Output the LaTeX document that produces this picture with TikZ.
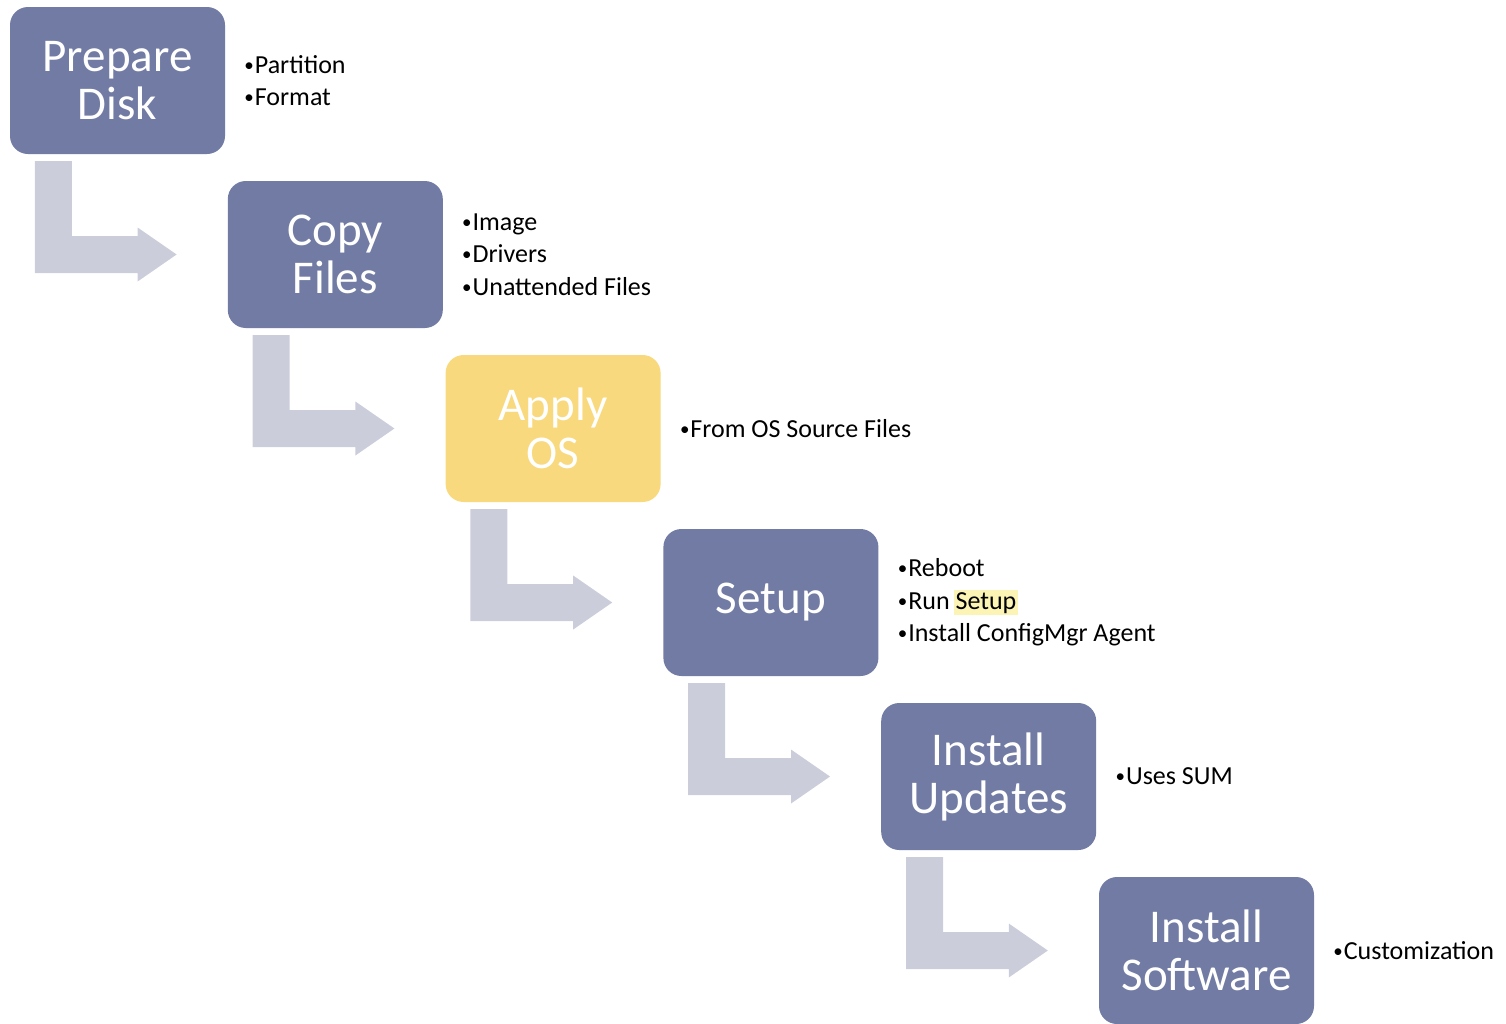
\documentclass[tikz,border=0pt]{standalone}
\usepackage{fontspec}
\setmainfont{Carlito}
\usetikzlibrary{positioning,calc}
\definecolor{boxblue}{HTML}{717BA3}
\definecolor{boxyellow}{HTML}{F9D97D}
\definecolor{arrowgray}{HTML}{CBCDDB}
\definecolor{glow}{HTML}{FCF4B4}
\tikzset{
    %Define style for step boxes
    stepbox/.style={
           rectangle,
           rounded corners=18pt,
           fill=boxblue,
           text=white,
           minimum width=215pt,
           minimum height=147pt,
           inner sep=0pt,
           align=center,
           font=\fontsize{47}{48}\selectfont},
    % Define style for bullet lists
    notes/.style={
           inner sep=0pt,
           align=left,
           font=\fontsize{26}{32.5}\selectfont},
    % Define style for bent arrows
    bent/.style={
           fill=arrowgray}
}
% small bullet
\newcommand{\bul}{\raisebox{2pt}{\fontsize{19}{19}\selectfont •}\hspace{1pt}}
% bent block arrow from one box to the next
\newcommand{\bentarrow}[2]{%
  \fill[bent] let \p1=(#1.south west), \p2=(#2.west) in
    (\x1+25pt,\y1-7pt) -- (\x1+62pt,\y1-7pt) -- (\x1+62pt,\y2+18.5pt)
    -- (\x2-90pt,\y2+18.5pt) -- (\x2-90pt,\y2+27pt) -- (\x2-51pt,\y2)
    -- (\x2-90pt,\y2-27pt) -- (\x2-90pt,\y2-18.5pt)
    -- (\x1+25pt,\y2-18.5pt) -- cycle;}

\begin{document}
\begin{tikzpicture}[x=1pt,y=1pt]
  \useasboundingbox (0,0) rectangle (1506,-1023);
  \node[stepbox] (prep) at (117.5,-80.5) {Prepare\\Disk};
  \node[stepbox,below right=26.6pt and 2.4pt of prep] (copy) {Copy\\Files};
  \node[stepbox,fill=boxyellow,below right=26.6pt and 2.4pt of copy] (apply) {Apply\\OS};
  \node[stepbox,below right=26.6pt and 2.4pt of apply] (setup) {Setup};
  \node[stepbox,below right=26.6pt and 2.4pt of setup] (updates) {Install\\Updates};
  \node[stepbox,below right=26.6pt and 2.4pt of updates] (software) {Install\\Software};

  \node[notes,right=19pt of prep] (prepnotes) {\bul Partition\\\bul Format};
  \node[notes,right=19pt of copy] (copynotes) {\bul Image\\\bul Drivers\\\bul Unattended Files};
  \node[notes,right=19pt of apply] (applynotes) {\bul From OS Source Files};
  \node[notes,right=19pt of setup] (setupnotes)
    {\bul Reboot\\\bul Run {\setlength\fboxsep{2pt}\hspace{-2pt}\colorbox{glow}{Setup}}\\\bul Install ConfigMgr Agent};
  \node[notes,right=19pt of updates] (updatesnotes) {\bul Uses SUM};
  \node[notes,right=19pt of software] (softwarenotes) {\bul Customization};

  \bentarrow{prep}{copy}
  \bentarrow{copy}{apply}
  \bentarrow{apply}{setup}
  \bentarrow{setup}{updates}
  \bentarrow{updates}{software}
\end{tikzpicture}
\end{document}
